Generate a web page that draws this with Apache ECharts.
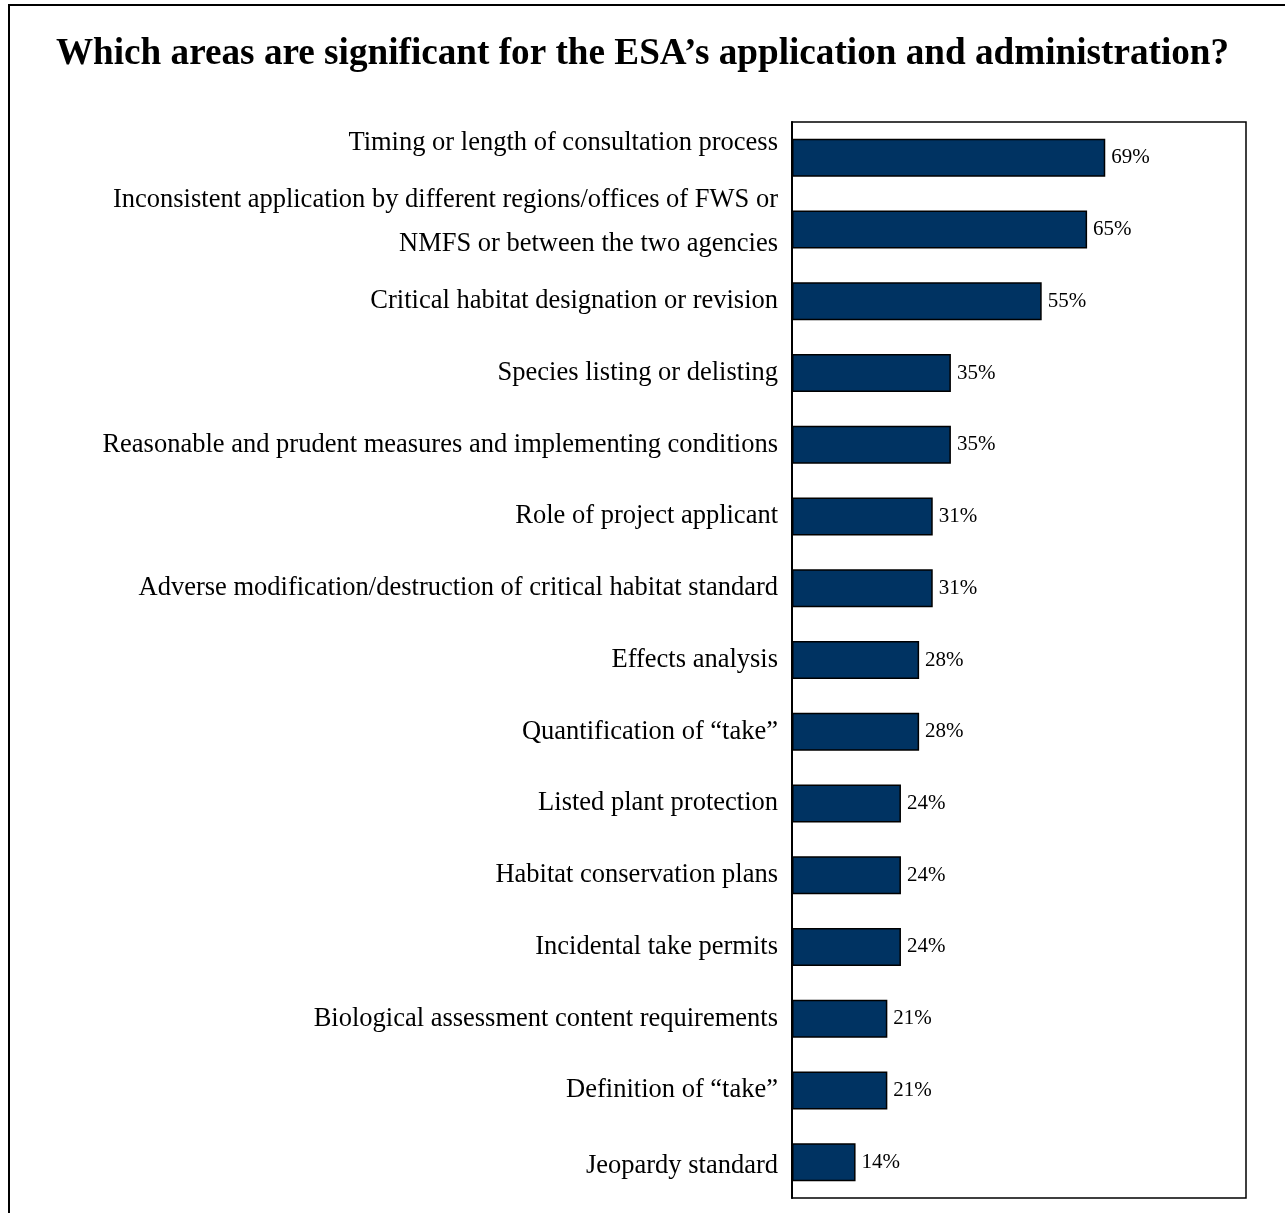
<!DOCTYPE html>
<html>
<head>
<meta charset="utf-8">
<script src="https://cdn.jsdelivr.net/npm/echarts@6/dist/echarts.min.js"></script>
<style>
html,body{margin:0;padding:0;background:#fff;}
#chart{width:1285px;height:1213px;}
</style>
</head>
<body>
<div id="chart"></div>
<script>
const titleText = 'Which areas are significant for the ESA\u2019s application and administration?';
const categories = [
  'Timing or length of consultation process',
  'Inconsistent application by different regions/offices of FWS or\nNMFS or between the two agencies',
  'Critical habitat designation or revision',
  'Species listing or delisting',
  'Reasonable and prudent measures and implementing conditions',
  'Role of project applicant',
  'Adverse modification/destruction of critical habitat standard',
  'Effects analysis',
  'Quantification of \u201ctake\u201d',
  'Listed plant protection',
  'Habitat conservation plans',
  'Incidental take permits',
  'Biological assessment content requirements',
  'Definition of \u201ctake\u201d',
  'Jeopardy standard'
];
const values = [69, 65, 55, 35, 35, 31, 31, 28, 28, 24, 24, 24, 21, 21, 14];

const serif = '"Liberation Serif", "Times New Roman", serif';
const chart = echarts.init(document.getElementById('chart'), null, {renderer: 'canvas'});

// Label layout: a few labels sit slightly off their bar centre in the original,
// emulated with spacer lines in rich text.
function labelFormatter(value, index) {
  const lines = String(value).split('\n');
  if (index === 0) return '{t|' + lines[0] + '}\n{gap30|}';
  if (index === 1) return lines.map(l => '{w|' + l + '}').join('\n') + '\n{gap16|}';
  if (index === categories.length - 1) return '{gap8|}\n{t|' + lines[0] + '}';
  return value;
}

chart.setOption({
  backgroundColor: '#fff',
  animation: false,
  title: {
    text: titleText,
    left: 'center',
    top: 31,
    textStyle: {fontFamily: serif, fontWeight: 'bold', fontSize: 37.2, color: '#000'}
  },
  graphic: [{
    type: 'rect',
    shape: {x: 9, y: 5, width: 1400, height: 1400},
    style: {fill: 'none', stroke: '#000', lineWidth: 2},
    silent: true
  }],
  grid: {
    left: 792, top: 122, width: 454, height: 1076,
    show: true, borderColor: '#000', borderWidth: 1.5, backgroundColor: 'transparent'
  },
  xAxis: {
    type: 'value', min: 0, max: 100, show: false
  },
  yAxis: {
    type: 'category',
    inverse: true,
    data: categories,
    axisLine: {show: true, lineStyle: {color: '#000', width: 2}},
    axisTick: {show: false},
    axisLabel: {
      interval: 0,
      hideOverlap: false,
      margin: 14,
      fontFamily: serif,
      fontSize: 26.5,
      lineHeight: 30,
      color: '#000',
      align: 'right',
      formatter: labelFormatter,
      rich: {
        t: {fontFamily: serif, fontSize: 26.5, lineHeight: 30, color: '#000', align: 'right'},
        w: {fontFamily: serif, fontSize: 26.5, lineHeight: 44, color: '#000', align: 'right'},
        gap30: {fontSize: 1, lineHeight: 30},
        gap16: {fontSize: 1, lineHeight: 16},
        gap8: {fontSize: 1, lineHeight: 8}
      }
    }
  },
  series: [{
    type: 'bar',
    data: values,
    barWidth: 38,
    itemStyle: {color: '#003362', borderColor: '#000', borderWidth: 1.5},
    label: {
      show: true,
      position: 'right',
      distance: 6,
      formatter: '{c}%',
      fontFamily: serif,
      fontSize: 21,
      color: '#000'
    }
  }]
});
</script>
</body>
</html>
